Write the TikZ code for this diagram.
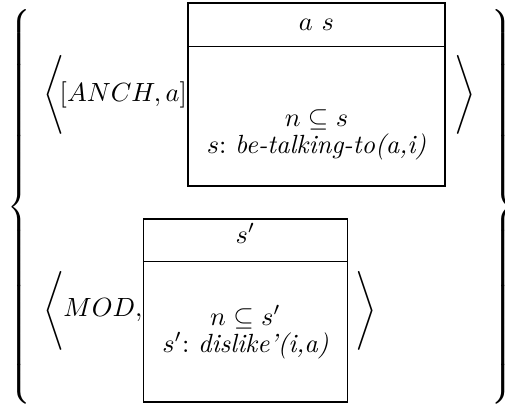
\documentclass[tikz,border=0pt]{standalone}
\usetikzlibrary{positioning,calc}

\newcommand{\tallstrut}{\vcenter{\hrule height 75pt depth 75pt width 0pt}}

\begin{document}
\begin{tikzpicture}[x=0.38pt,y=-0.38pt,
    drs/.style={draw,inner sep=0pt,minimum height=183*0.38pt},
    delim/.style={inner sep=0pt},
    cond/.style={inner sep=0pt,anchor=base}]
  \useasboundingbox (0,0) rectangle (505,406);
  % the set
  \node[delim] (lset) at (21,207) {$\left\{\tallstrut\right.$};
  \node[delim] (rset) at (502,207) {$\left.\tallstrut\right\}$};
  % first pair
  \node[drs,minimum width=257*0.38pt] (top) at (316.5,94.5) {};
  \draw ($(top.north west)+(0,44)$) -- ($(top.north east)+(0,44)$);
  \node[cond] (topuniv) at (316.5,30) {$a\ s$};
  \node[cond] (topincl) at (316.5,126) {$n\subseteq s$};
  \node[cond] (toppred) at (316.5,153) {$s\colon$ \textit{be-talking-to(a,i)}};
  \node[delim,anchor=east] (anch) at (top.west) {$[ANCH,a]$};
  \node[delim] (topopen) at (54,95) {$\Bigg\langle$};
  \node[delim] (topclose) at (465,95) {$\Bigg\rangle$};
  % second pair
  \node[drs,minimum width=204*0.38pt] (bot) at (245.5,310.5) {};
  \draw ($(bot.north west)+(0,43)$) -- ($(bot.north east)+(0,43)$);
  \node[cond] (botuniv) at (245.5,243) {$s'$};
  \node[cond] (botincl) at (245.5,325) {$n\subseteq s'$};
  \node[cond] (botpred) at (245.5,352) {$s'\colon$ \textit{dislike'(i,a)}};
  \node[delim,anchor=east] (mod) at (bot.west) {$MOD,$};
  \node[delim] (botopen) at (54,311) {$\Bigg\langle$};
  \node[delim] (botclose) at (366.5,311) {$\Bigg\rangle$};
\end{tikzpicture}
\end{document}
